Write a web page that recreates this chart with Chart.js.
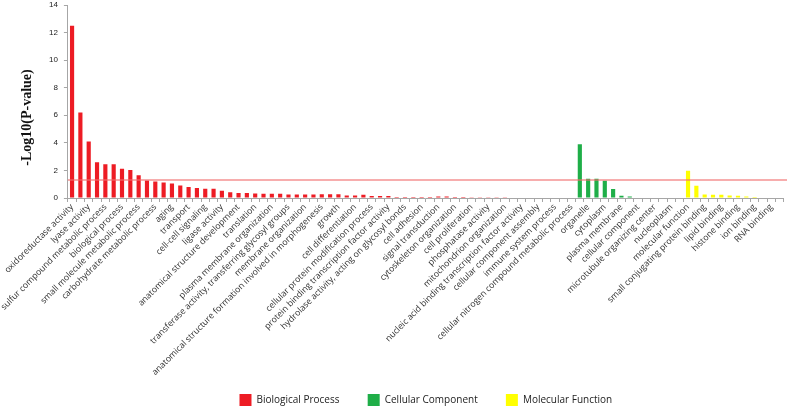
<!DOCTYPE html>
<html>
<head>
<meta charset="utf-8">
<script src="https://cdn.jsdelivr.net/npm/chart.js@4.4.0/dist/chart.umd.min.js"></script>
<style>
  html, body { margin: 0; padding: 0; background: #fff; }
  #wrap { width: 787px; height: 408px; position: relative; }
</style>
</head>
<body>
<div id="wrap"><canvas id="goChart"></canvas></div>
<script>
// GO terms as printed under the axis (only every second category got a label)
const shownTerms = [
    'oxidoreductase activity', 'lyase activity', 'sulfur compound metabolic process',
    'biological process', 'small molecule metabolic process', 'carbohydrate metabolic process',
    'aging', 'transport', 'cell-cell signaling', 'ligase activity',
    'anatomical structure development', 'translation', 'plasma membrane organization',
    'transferase activity, transferring glycosyl groups', 'membrane organization',
    'anatomical structure formation involved in morphogenesis', 'growth',
    'cell differentiation', 'cellular protein modification process',
    'protein binding transcription factor activity', 'hydrolase activity, acting on glycosyl bonds',
    'cell adhesion', 'signal transduction', 'cytoskeleton organization', 'cell proliferation',
    'phosphatase activity', 'mitochondrion organization',
    'nucleic acid binding transcription factor activity', 'cellular component assembly',
    'immune system process', 'cellular nitrogen compound metabolic process',
    'organelle', 'cytoplasm', 'plasma membrane', 'cellular component',
    'microtubule organizing center', 'nucleoplasm', 'molecular function',
    'small conjugating protein binding', 'lipid binding', 'histone binding',
    'ion binding', 'RNA binding'
];

// -Log10(P-value), one array per GO branch, in axis order
const bioProcess = [
    12.5, 6.2, 4.1, 2.6, 2.45, 2.45, 2.12, 2.03, 1.65, 1.27,
    1.19, 1.12, 1.05, 0.9, 0.79, 0.73, 0.68, 0.67, 0.53, 0.42,
    0.37, 0.36, 0.32, 0.31, 0.31, 0.31, 0.25, 0.25, 0.25, 0.26,
    0.28, 0.28, 0.27, 0.19, 0.19, 0.23, 0.14, 0.14, 0.14, 0.08,
    0.08, 0.08, 0.08, 0.08, 0.1, 0.11, 0.07, 0.07, 0.06, 0.06,
    0.06, 0.06, 0.05, 0, 0, 0, 0, 0, 0, 0, 0
];
const cellComponent = [3.9, 1.4, 1.4, 1.26, 0.65, 0.17, 0.1, 0, 0, 0, 0, 0, 0];
const molFunction = [1.98, 0.89, 0.26, 0.24, 0.24, 0.19, 0.17, 0.1, 0.07, 0, 0, 0];

const yTicks = [0, 2, 4, 6, 8, 10, 12, 14];
const threshold = 1.3; // -log10(0.05)
const yTitleText = '-Log10(P-value)';

// full category list: a named term followed by an unlabelled one
const categories = [];
shownTerms.forEach(t => {
    categories.push(t);
    categories.push('');
});

// put a branch's values at its place on the axis
function placeSeries(values, start) {
    const arr = new Array(categories.length).fill(null);
    values.forEach((v, i) => { arr[start + i] = v; });
    return arr;
}

const ccStart = bioProcess.length;
const mfStart = ccStart + cellComponent.length;

// significance cut-off drawn across the plot
const thresholdLine = {
    id: 'thresholdLine',
    afterDatasetsDraw(chart) {
        const { ctx, chartArea, scales: { y } } = chart;
        const yPos = y.getPixelForValue(threshold);
        ctx.save();
        ctx.strokeStyle = 'rgba(240, 110, 110, 0.75)';
        ctx.lineWidth = 1.5;
        ctx.beginPath();
        ctx.moveTo(chartArea.left, yPos);
        ctx.lineTo(chart.width, yPos);
        ctx.stroke();
        ctx.restore();
    }
};

// y title sits a bit below the middle of the axis in the original
const yTitle = {
    id: 'yTitle',
    afterDraw(chart) {
        const { ctx, chartArea } = chart;
        const mid = (chartArea.top + chartArea.bottom) / 2 + 16;
        ctx.save();
        ctx.translate(27, mid);
        ctx.rotate(-Math.PI / 2);
        ctx.font = 'bold 14px "Liberation Serif"';
        ctx.fillStyle = '#111';
        ctx.textAlign = 'center';
        ctx.textBaseline = 'middle';
        ctx.fillText(yTitleText, 0, 0);
        ctx.restore();
    }
};

const axisGray = '#a6a6a6';

new Chart(document.getElementById('goChart'), {
    type: 'bar',
    data: {
        labels: categories,
        datasets: [
            { label: 'Biological Process', data: placeSeries(bioProcess, 0), backgroundColor: '#ed1c24' },
            { label: 'Cellular Component', data: placeSeries(cellComponent, ccStart), backgroundColor: '#1fae48' },
            { label: 'Molecular Function', data: placeSeries(molFunction, mfStart), backgroundColor: '#ffff00' }
        ]
    },
    options: {
        responsive: true,
        maintainAspectRatio: false,
        animation: false,
        layout: { padding: { left: 43, right: 3, top: 0, bottom: -8 } },
        datasets: {
            bar: { grouped: false, barPercentage: 0.5, categoryPercentage: 1 }
        },
        plugins: {
            legend: {
                position: 'bottom',
                fullSize: false,
                labels: {
                    boxWidth: 12,
                    boxHeight: 12,
                    padding: 10,
                    color: '#222',
                    font: { family: 'Open Sans', size: 10 },
                    generateLabels(chart) {
                        const items = Chart.defaults.plugins.legend.labels.generateLabels(chart);
                        // wide gaps between entries, like the Excel legend
                        items.slice(0, -1).forEach(item => { item.text += ' '.repeat(7); });
                        return items;
                    }
                }
            },
            tooltip: { enabled: false }
        },
        scales: {
            x: {
                grid: { display: true, drawOnChartArea: false, color: axisGray, tickLength: 4, offset: true },
                border: { color: axisGray },
                ticks: {
                    autoSkip: false,
                    maxRotation: 45,
                    minRotation: 45,
                    padding: 0,
                    color: '#333',
                    font: { family: 'Open Sans', size: 8.7 }
                },
                afterFit: scale => {
                    scale.height = 186;
                    scale.paddingLeft = 0;
                }
            },
            y: {
                min: 0,
                max: 14,
                afterBuildTicks: scale => { scale.ticks = yTicks.map(v => ({ value: v })); },
                afterFit: scale => { scale.paddingTop = 5; },
                grid: { drawOnChartArea: false, color: axisGray, tickLength: 4 },
                border: { color: axisGray },
                ticks: { padding: 6, color: '#222', font: { family: 'Liberation Sans', size: 8 } }
            }
        }
    },
    plugins: [thresholdLine, yTitle]
});
</script>
</body>
</html>
